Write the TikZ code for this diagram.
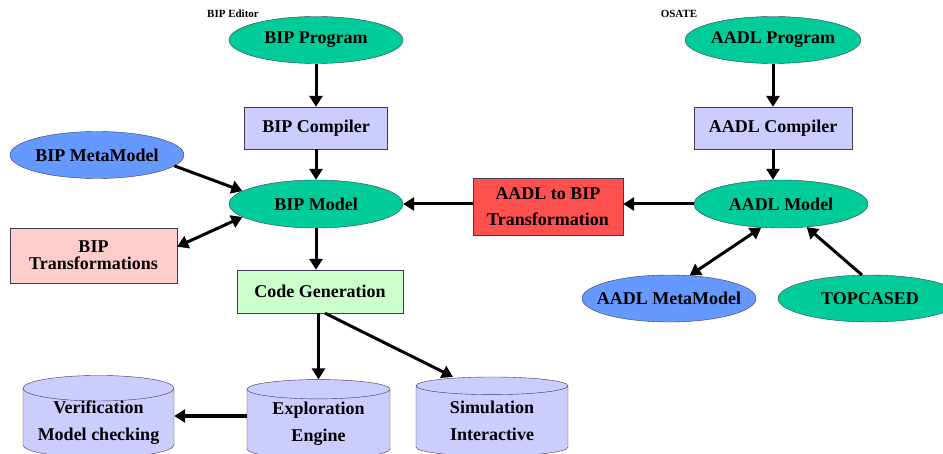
\documentclass[tikz,border=0pt]{standalone}
\usepackage{fontspec}
\setmainfont{Liberation Serif}
\usepackage{xcolor}
\definecolor{bipgreen}{HTML}{00CC99}
\definecolor{bipblue}{HTML}{6699FF}
\definecolor{biplilac}{HTML}{CCCCFF}
\definecolor{bippink}{HTML}{FFCCCC}
\definecolor{bipmint}{HTML}{CCFFCC}
\definecolor{bipred}{HTML}{FF5050}
\definecolor{bipedge}{HTML}{3A3A50}
\usetikzlibrary{arrows.meta,positioning,shapes.geometric}

\begin{document}
\begin{tikzpicture}[x=1pt,y=-1pt,>={Triangle[length=11pt,width=13pt]}]
\tikzset{
 blob/.style={ellipse,draw=bipedge,fill=bipgreen,minimum width=174pt,minimum height=47pt,inner sep=0pt,font=\bfseries\fontsize{18}{20}\selectfont},
 meta/.style={blob,fill=bipblue,inner xsep=-14pt},
 box/.style={draw=bipedge,minimum height=43pt,inner sep=0pt,align=center,font=\bfseries\fontsize{18}{26}\selectfont},
 store/.style={cylinder,shape border rotate=90,aspect=0.21,draw=bipedge,fill=biplilac,inner sep=0pt,align=center,font=\bfseries\fontsize{18}{27}\selectfont},
 arrow/.style={->,line width=3pt},
 twoway/.style={<->,line width=3pt},
 tag/.style={font=\bfseries\fontsize{11}{13}\selectfont}
}
\path[use as bounding box,clip] (0,0) rectangle (943,454);

% BIP side
\node[tag] (editor) at (233,14) {BIP Editor};
\node[blob] (bipprog) at (316,40) {BIP Program};
\node[box,fill=biplilac,minimum width=143pt,minimum height=42pt] (bipcomp) at (316,128) {BIP Compiler};
\node[meta] (bipmeta) at (97,155) {BIP MetaModel};
\node[blob,minimum height=48pt] (bipmodel) at (316,204) {BIP Model};
\node[box,fill=bippink,minimum width=167pt,minimum height=55pt,font=\bfseries\fontsize{18}{17}\selectfont] (biptrans) at (93.5,255.5) {BIP\\Transformations};
\node[box,fill=bipmint,minimum width=166pt] (codegen) at (320,291.5) {Code Generation};

% AADL side
\node[tag] (osate) at (679,14) {OSATE};
\node[blob] (aadlprog) at (773,40) {AADL Program};
\node[box,fill=biplilac,minimum width=158pt,minimum height=42pt] (aadlcomp) at (773,128) {AADL Compiler};
\node[blob,minimum height=48pt] (aadlmodel) at (781,204) {AADL Model};
\node[box,fill=bipred,minimum width=150pt,minimum height=57pt] (aadl2bip) at (548,207) {AADL to BIP\\Transformation};
\node[meta] (aadlmeta) at (669,298.5) {AADL MetaModel};
\node[blob,minimum width=184pt] (topcased) at (870,298.5) {TOPCASED};

% back ends
\node[store,minimum width=151pt,minimum height=80pt] (verify) at (98.5,423) {Verification\\Model checking};
\node[store,minimum width=143pt,minimum height=79pt] (explore) at (318.5,424) {Exploration\\Engine};
\node[store,minimum width=152pt,minimum height=79pt] (sim) at (492,421) {Simulation\\Interactive};

\draw[arrow] (bipprog) -- (bipcomp);
\draw[arrow] (bipcomp) -- (bipmodel);
\draw[arrow] (bipmeta.-8) -- (bipmodel.170);
\draw[twoway] (biptrans.6) -- (bipmodel.190);
\draw[arrow] (bipmodel.south) -- (bipmodel.south |- codegen.north);
\draw[arrow] (aadl2bip.west |- aadlmodel) -- (bipmodel);
\draw[arrow] (aadlprog) -- (aadlcomp);
\draw[arrow] (aadlcomp.south) -- (aadlcomp.south |- aadlmodel.north);
\draw[arrow] (aadlmodel) -- (aadl2bip.east |- aadlmodel);
\draw[twoway] (aadlmeta.48) -- (aadlmodel.230);
\draw[arrow] (topcased.109) -- (aadlmodel.318);
\draw[arrow] (explore.north |- codegen.south) -- (explore.north);
\draw[arrow] ([xshift=5pt]codegen.south) -- ([xshift=-39pt]sim.north);
\draw[arrow] (explore.west |- 0,416) -- (verify.east |- 0,416);
\end{tikzpicture}
\end{document}
